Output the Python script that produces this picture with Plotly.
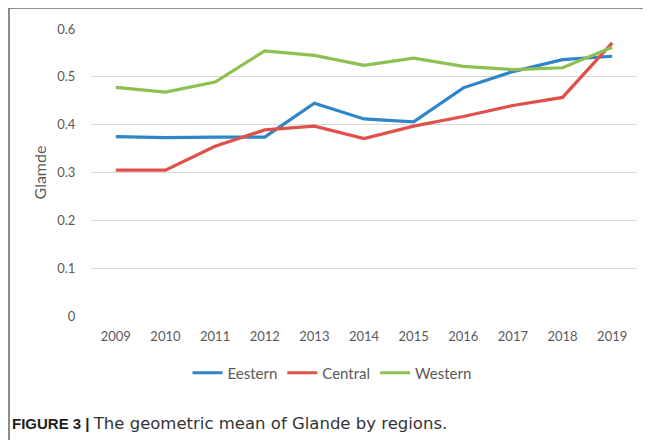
import plotly.graph_objects as go

years = ["2009", "2010", "2011", "2012", "2013", "2014", "2015", "2016", "2017", "2018", "2019"]
eastern = [0.375, 0.373, 0.374, 0.374, 0.445, 0.412, 0.406, 0.477, 0.511, 0.536, 0.543]
central = [0.305, 0.305, 0.355, 0.389, 0.397, 0.371, 0.397, 0.417, 0.440, 0.457, 0.571]
western = [0.478, 0.468, 0.489, 0.554, 0.545, 0.524, 0.539, 0.522, 0.515, 0.519, 0.562]
y_ticks = [0, 0.1, 0.2, 0.3, 0.4, 0.5, 0.6]
y_ticktext = ["0", "0.1", "0.2", "0.3", "0.4", "0.5", "0.6"]

W, H = 651, 440
OFF = 8  # page body margin offset
# plot area in page pixels: x 91..637, y 29..316
L = 91 - OFF
T = 29 - OFF
R = W - (637 - OFF)
B = H - (316 - OFF)
pw, ph = W - L - R, H - T - B

def px(xp):
    return (xp - OFF - L) / pw

def py(yp):
    return (H - B - (yp - OFF)) / ph

fig = go.Figure()
for name, vals, col in [("Eestern", eastern, "#2E86C9"),
                        ("Central", central, "#E0504A"),
                        ("Western", western, "#8DC050")]:
    fig.add_trace(go.Scatter(x=years, y=vals, name=name, mode="lines",
                             line=dict(color=col, width=3.2)))

FAM = "Lato, Open Sans, sans-serif"
font = dict(family=FAM, size=13, color="#595959")

fig.update_layout(
    width=W, height=H,
    margin=dict(l=L, r=R, t=T, b=B),
    paper_bgcolor="white", plot_bgcolor="white",
    font=font,
    showlegend=True,
    legend=dict(orientation="h", x=px(332), y=py(373), xanchor="center", yanchor="middle",
                font=dict(family=FAM, size=15, color="#595959"), itemwidth=30, tracegroupgap=0),
    xaxis=dict(type="category", range=[-0.5, 10.5], showgrid=False, zeroline=False,
               showline=False, ticks="outside", ticklen=8, tickcolor="rgba(0,0,0,0)",
               tickfont=font),
    yaxis=dict(range=[0, 0.6], tickvals=y_ticks, ticktext=y_ticktext, showgrid=True,
               gridcolor="#D9D9D9", gridwidth=1, zeroline=False, showline=False,
               ticks="outside", ticklen=12, tickcolor="rgba(0,0,0,0)", tickfont=font,
               title=dict(text="Glamde", font=dict(family=FAM, size=16, color="#595959"),
                          standoff=6)),
    shapes=[
        dict(type="line", xref="paper", yref="paper", x0=px(9), x1=px(660), y0=py(8), y1=py(8),
             line=dict(color="#666666", width=1.5)),
        dict(type="line", xref="paper", yref="paper", x0=px(9), x1=px(9), y0=py(8), y1=py(450),
             line=dict(color="#666666", width=1.5)),
    ],
    annotations=[
        dict(xref="paper", yref="paper", x=px(10), y=py(423), xanchor="left", yanchor="middle",
             showarrow=False,
             text=("<b>FIGURE 3 |</b> <span style=\"font-family:'DejaVu Sans';font-size:16.5px;"
                   "color:#333333\">The geometric mean of Glande by regions.</span>"),
             font=dict(family="Liberation Sans, Arial, sans-serif", size=15, color="#231F20")),
    ],
)

fig.write_html("out.html")
